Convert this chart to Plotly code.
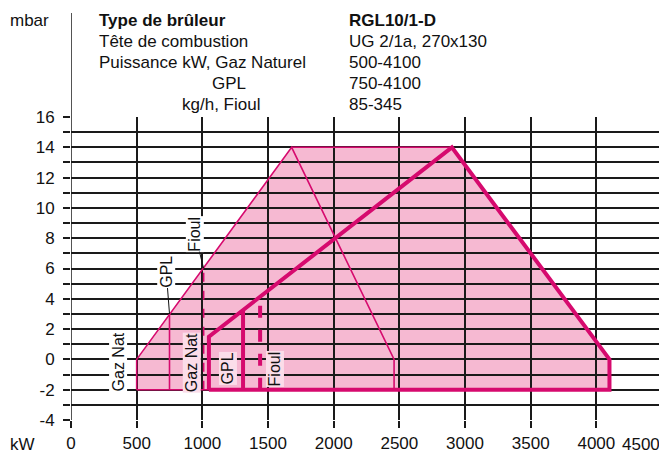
import plotly.graph_objects as go

# --- data ---
# outer shaded working field (kW, mbar)
field_kw = [500, 500, 1680, 2900, 4100, 4100, 500]
field_mbar = [-2, 0, 14, 14, 0, -2, -2]

# thin curve
thin_kw = [500, 500, 1680, 2460, 2460, 500]
thin_mbar = [-2, 0, 14, 0, -2, -2]
top_kw = [1680, 2900]
top_mbar = [14, 14]

# thick curve
thick_kw = [1050, 1050, 2900, 4100, 4100, 1050]
thick_mbar = [-2, 1.5, 14, 0, -2, -2]

# minimum-output limits (kW, top mbar)
thin_gpl = (750, 3.0)
thin_fioul = (1010, 6.0)
thick_gpl = (1310, 3.3)
thick_fioul = (1440, 4.2)

x_ticks = [0, 500, 1000, 1500, 2000, 2500, 3000, 3500, 4000, 4500]
x_labels = ["0", "500", "1000", "1500", "2000", "2500", "3000", "3500", "4000", ""]
y_ticks = list(range(-4, 17))
y_labels = [str(v) if v % 2 == 0 else "" for v in y_ticks]

header_left = ["Type de brûleur", "Tête de combustion", "Puissance kW, Gaz Naturel", "GPL", "kg/h, Fioul"]
header_right = ["RGL10/1-D", "UG 2/1a, 270x130", "500-4100", "750-4100", "85-345"]

PINK = "#d60a6e"
FILL = "#f6b9d2"
GRID = "#1a1a1a"
FONT = "Liberation Sans, Arial, sans-serif"

fig = go.Figure()

# field fill sits below the grid
path = "M " + " L ".join(f"{x},{y}" for x, y in zip(field_kw, field_mbar)) + " Z"
fig.add_shape(type="path", path=path, xref="x", yref="y",
              fillcolor=FILL, line=dict(width=0), layer="below")

fig.add_trace(go.Scatter(x=thin_kw, y=thin_mbar, mode="lines",
                         line=dict(color=PINK, width=1.6)))
fig.add_trace(go.Scatter(x=top_kw, y=top_mbar, mode="lines",
                         line=dict(color=PINK, width=1.6)))
fig.add_trace(go.Scatter(x=thick_kw, y=thick_mbar, mode="lines",
                         line=dict(color=PINK, width=4)))

fig.add_trace(go.Scatter(x=[thin_gpl[0]] * 2, y=[-2, thin_gpl[1]], mode="lines",
                         line=dict(color=PINK, width=1.6)))
fig.add_trace(go.Scatter(x=[thin_fioul[0]] * 2, y=[-2, thin_fioul[1]], mode="lines",
                         line=dict(color=PINK, width=1.6, dash="dash")))
fig.add_trace(go.Scatter(x=[thick_gpl[0]] * 2, y=[-2, thick_gpl[1]], mode="lines",
                         line=dict(color=PINK, width=4)))
fig.add_trace(go.Scatter(x=[thick_fioul[0]] * 2, y=[-2, thick_fioul[1]], mode="lines",
                         line=dict(color=PINK, width=4, dash="dash")))

# vertical labels
lab_font = dict(family=FONT, size=16, color="#111")
for txt, x, y, bg in [("Gaz Nat", 358, -0.2, "white"),
                      ("Gaz Nat", 919, -0.2, "#fbdde9"),
                      ("GPL", 1195, -0.6, "#fbdde9"),
                      ("Fioul", 1553, -0.6, "#fbdde9")]:
    fig.add_annotation(x=x, y=y, text=txt, textangle=-90, showarrow=False,
                       font=lab_font, bgcolor=bg, borderpad=0)

# labels with leader lines
for txt, tx, ty, px, py in [("GPL", 725, 5.8, thin_gpl[0], thin_gpl[1]),
                            ("Fioul", 944, 8.3, thin_fioul[0], thin_fioul[1])]:
    fig.add_annotation(x=px, y=py, ax=tx, ay=ty, axref="x", ayref="y",
                       text=txt, textangle=-90, showarrow=True, arrowhead=0,
                       arrowwidth=1, arrowcolor="#111", font=lab_font,
                       bgcolor="white", borderpad=0)

# header block
hdr_y = [1.318, 1.249, 1.179, 1.111, 1.042]
hdr_x = [0.0435, 0.0435, 0.0435, 0.236, 0.184]
for i, (l, r) in enumerate(zip(header_left, header_right)):
    bold = i == 0
    fig.add_annotation(xref="paper", yref="paper", x=hdr_x[i], y=hdr_y[i],
                       xanchor="left", yanchor="middle", showarrow=False,
                       text=f"<b>{l}</b>" if bold else l,
                       font=dict(family=FONT, size=17, color="#111"))
    fig.add_annotation(xref="paper", yref="paper", x=0.4665, y=hdr_y[i],
                       xanchor="left", yanchor="middle", showarrow=False,
                       text=f"<b>{r}</b>" if bold else r,
                       font=dict(family=FONT, size=17, color="#111"))

fig.add_annotation(xref="paper", yref="paper", x=-0.1066, y=1.318,
                   xanchor="left", yanchor="middle", showarrow=False, text="mbar",
                   font=dict(family=FONT, size=17, color="#111"))
fig.add_annotation(xref="paper", yref="paper", x=-0.1066, y=-0.082,
                   xanchor="left", yanchor="middle", showarrow=False, text="kW",
                   font=dict(family=FONT, size=17, color="#111"))
# last x tick label is pulled in so it stays inside the page
fig.add_annotation(xref="x", yref="paper", x=x_ticks[-1], y=-0.082,
                   xanchor="right", yanchor="middle", showarrow=False,
                   text=str(x_ticks[-1]),
                   font=dict(family=FONT, size=17, color="#111"))

# y axis line running up beside the header
fig.add_shape(type="line", xref="x", yref="paper", x0=0, x1=0, y0=0, y1=1.343,
              line=dict(color=GRID, width=1.5))

# the page body has an 8px margin, so the figure is sized/offset for it
fig.update_layout(
    width=659, height=449,
    margin=dict(l=63, r=5, t=109, b=37),
    paper_bgcolor="white", plot_bgcolor="white",
    showlegend=False,
    font=dict(family=FONT, size=17, color="#111"),
    xaxis=dict(range=[0, 4500], tickvals=x_ticks, ticktext=x_labels,
               showgrid=True, gridcolor=GRID, gridwidth=1.5, zeroline=False,
               ticks="outside", ticklen=7, tickwidth=1.5, tickcolor=GRID,
               ticklabelstandoff=1,
               showline=False, fixedrange=True, automargin=False),
    yaxis=dict(range=[-4, 16], tickvals=y_ticks, ticktext=y_labels,
               showgrid=True, gridcolor=GRID, gridwidth=1.5, zeroline=False,
               ticks="outside", ticklen=7, tickwidth=1.5, tickcolor=GRID,
               ticklabelstandoff=5,
               showline=False, fixedrange=True, automargin=False),
)

fig.write_html("out.html")
